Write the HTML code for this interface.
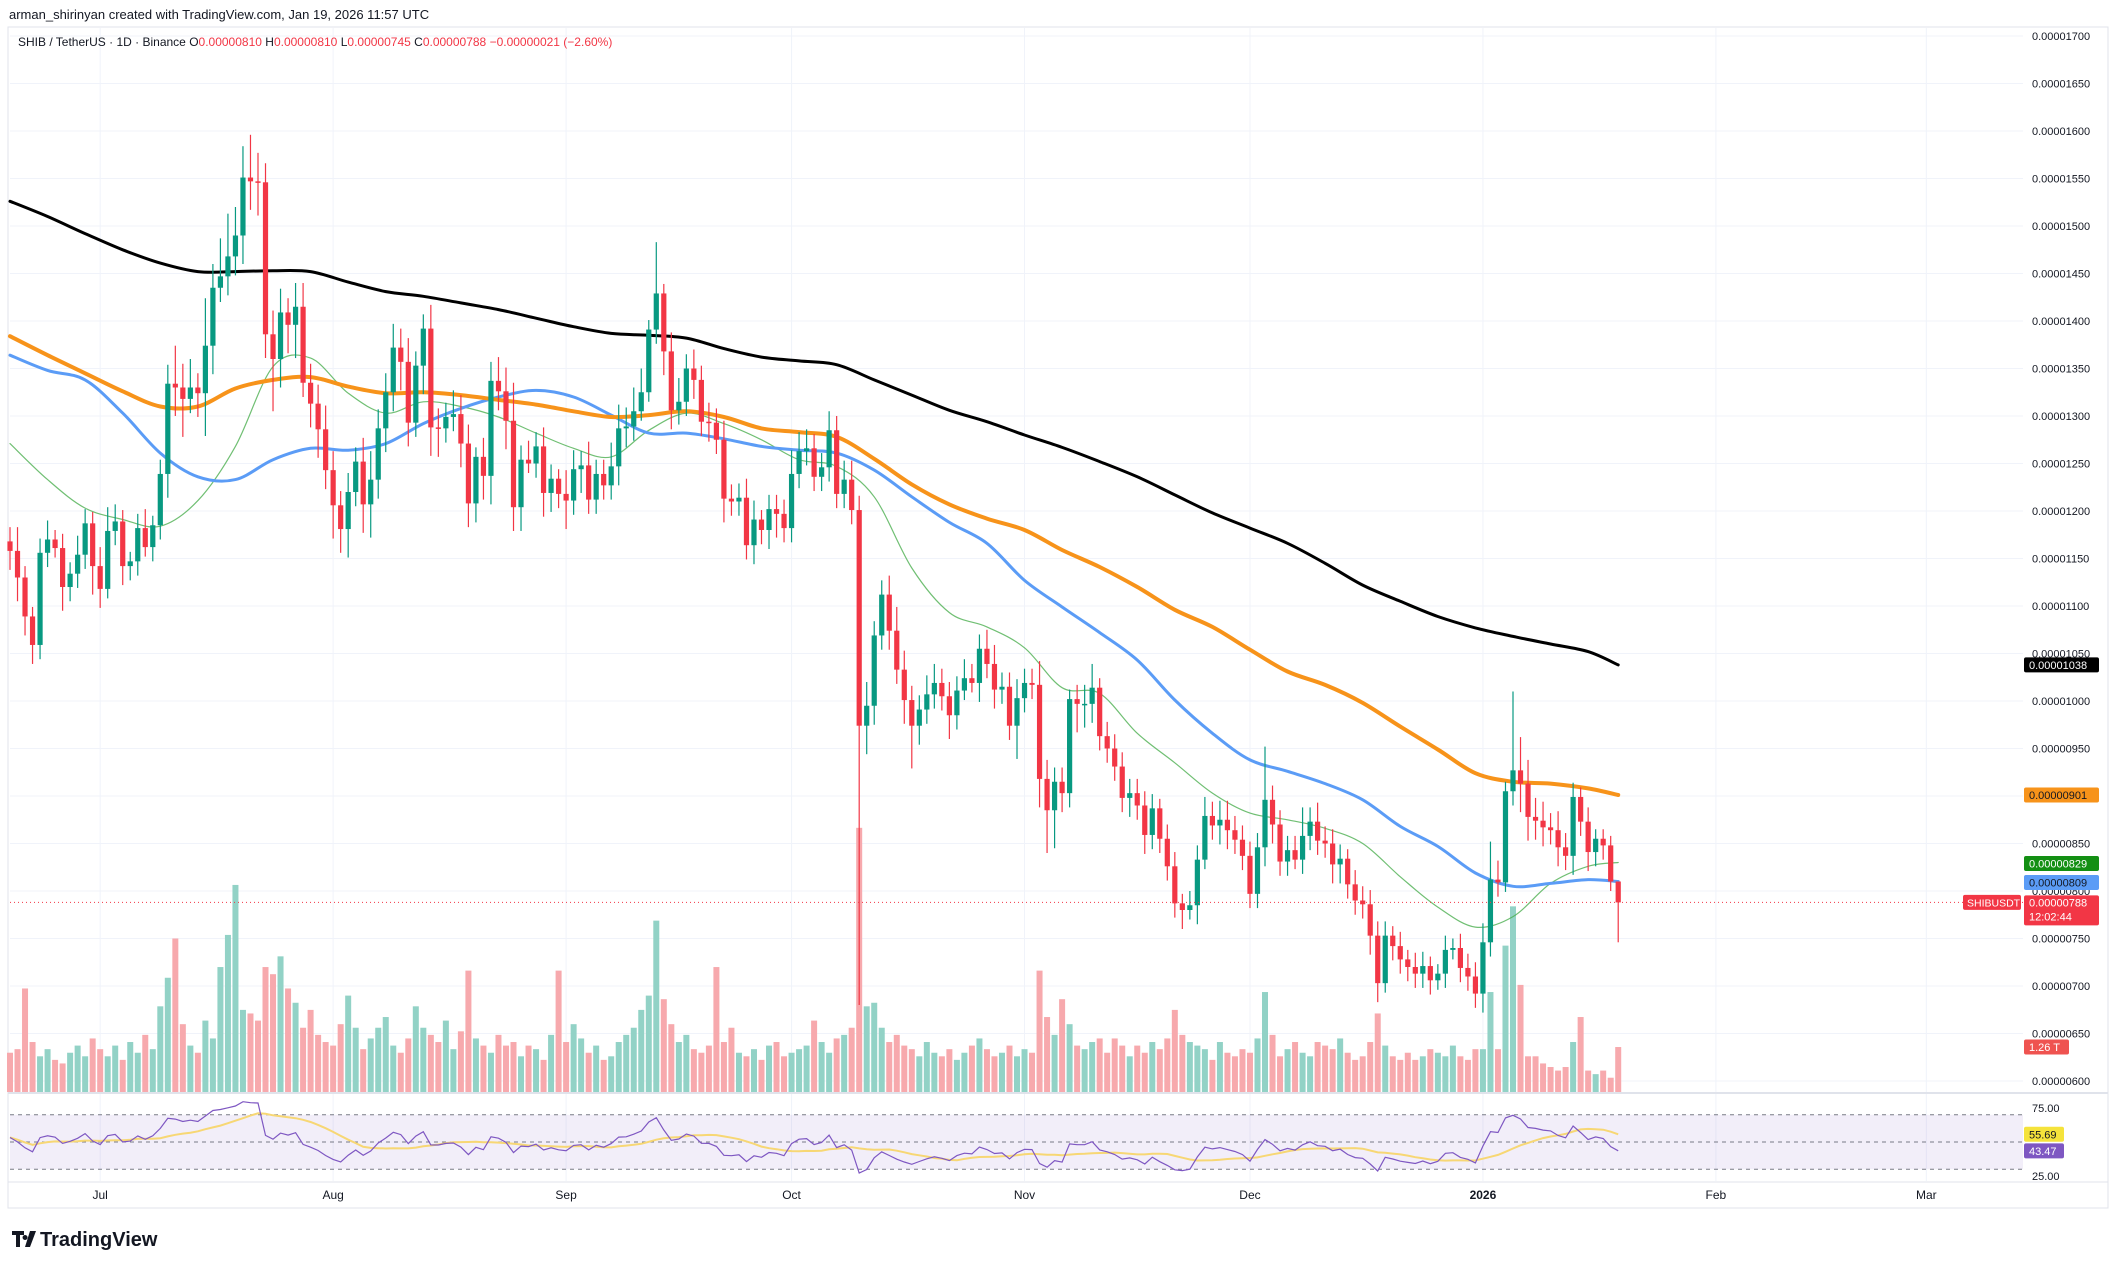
<!DOCTYPE html>
<html><head><meta charset="utf-8"><title>SHIB / TetherUS 1D chart</title>
<style>
html,body{margin:0;padding:0;background:#fff;width:2119px;height:1269px;overflow:hidden;font-family:"Liberation Sans",sans-serif;}
svg text{font-family:"Liberation Sans",sans-serif;}
</style></head>
<body>
<svg id="chart" width="2119" height="1269" viewBox="0 0 2119 1269" xmlns="http://www.w3.org/2000/svg">
  <rect x="0" y="0" width="2119" height="1269" fill="#ffffff"/>
  <text x="9" y="19" font-size="13" fill="#131722">arman_shirinyan created with TradingView.com, Jan 19, 2026 11:57 UTC</text>
  <rect x="8" y="27" width="2100" height="1181" fill="none" stroke="#e0e3eb" stroke-width="1"/>
  <g id="grid"></g>
  <g id="volume"></g>
  <g id="mas"></g>
  <g id="candles"></g>
  <g id="rsi"></g>
  <g id="axes"></g>
  <g id="badges"></g>
  <text x="18" y="46" font-size="12" fill="#131722">SHIB / TetherUS · 1D · Binance  <tspan fill="#131722">O</tspan><tspan fill="#f23645">0.00000810</tspan>  <tspan fill="#131722">H</tspan><tspan fill="#f23645">0.00000810</tspan>  <tspan fill="#131722">L</tspan><tspan fill="#f23645">0.00000745</tspan>  <tspan fill="#131722">C</tspan><tspan fill="#f23645">0.00000788</tspan>  <tspan fill="#f23645">−0.00000021 (−2.60%)</tspan></text>
  <g>
    <path d="M12 1231 h12 v4 h-4 v12 h-4 v-12 h-4 z M25 1235 a2.5 2.5 0 1 0 0.1 0 z M30 1231 h6 l-6 16 h-5 z" fill="#131722"/>
    <text x="40" y="1246" font-size="20" font-weight="bold" fill="#131722">TradingView</text>
  </g>
</svg>
<script>
// ===== data =====
const closes = [
1158,1130,1089,1059,1156,1170,1161,1120,1134,1154,
1187,1142,1118,1179,1189,1142,1147,1182,1162,1185,
1239,1334,1330,1318,1330,1324,1374,1435,1447,1468,
1490,1551,1547,1546,1386,1360,1409,1396,1415,1335,
1313,1286,1243,1206,1181,1220,1252,1207,1233,1287,
1325,1372,1357,1293,1353,1392,1288,1287,1299,1302,
1271,1208,1257,1237,1337,1326,1295,1204,1254,1250,
1268,1219,1234,1218,1211,1244,1248,1212,1239,1227,
1247,1287,1289,1305,1325,1391,1429,1368,1306,1315,
1350,1338,1294,1293,1275,1213,1210,1214,1164,1191,
1180,1202,1197,1182,1239,1263,1266,1236,1246,1285,
1218,1233,1201,974,995,1069,1112,1074,1033,1001,
974,991,1007,1019,1005,985,1011,1024,1019,1055,
1039,1012,1015,974,1003,1019,1017,918,885,915,
903,1002,997,997,1014,963,950,931,898,903,
890,859,887,855,826,787,780,785,833,879,
869,875,864,854,837,797,846,896,870,831,
843,833,858,873,853,850,828,834,807,790,
786,753,703,753,742,728,720,713,721,706,
713,738,740,719,710,692,746,812,809,905,
927,913,878,874,867,864,846,837,899,873,
841,855,848,810,788];
const firstOpen = 1168;
const wickUp = [
15,25,12,10,15,20,10,15,12,20,
15,12,20,25,18,12,10,15,20,10,
15,20,40,25,30,15,50,25,40,45,
30,33,45,30,20,25,25,15,25,25,
20,20,25,20,15,20,15,25,30,20,
20,25,20,25,15,15,25,20,15,25,
20,20,10,20,20,25,25,40,15,20,
15,20,15,10,25,20,15,25,15,15,
25,25,20,25,25,10,54,10,20,25,
15,20,15,20,15,20,15,15,20,20,
10,15,15,15,25,20,20,15,15,20,
15,20,20,15,25,15,15,20,25,20,
15,15,20,20,15,15,15,20,15,15,
20,20,15,15,20,15,15,25,20,15,
15,10,15,20,25,10,15,15,15,15,
15,15,15,10,15,15,10,15,15,20,
15,20,20,15,15,15,15,56,15,15,
15,15,30,15,20,15,15,15,10,15,
15,15,15,15,10,15,10,15,15,10,
10,15,10,15,15,15,20,40,20,10,
83,35,25,20,20,15,20,15,15,10,
15,10,10,10,0];
const wickDn = [
20,25,20,20,15,15,10,25,15,15,
15,30,20,10,15,20,15,15,10,15,
15,25,30,40,15,25,45,30,15,20,
20,30,30,35,25,55,30,30,35,15,
25,30,20,35,25,30,15,30,35,20,
25,20,30,25,15,30,30,30,15,15,
25,25,20,25,30,20,30,25,25,10,
15,25,20,15,30,15,25,15,15,15,
15,20,20,15,10,10,15,25,20,15,
15,20,15,20,15,25,15,15,15,20,
15,20,25,15,15,15,15,15,15,15,
15,15,15,294,30,20,15,20,15,25,
45,20,15,15,15,25,15,10,10,20,
15,20,15,15,35,15,15,30,45,40,
20,15,30,25,20,15,15,15,15,20,
15,20,15,15,15,15,20,10,20,10,
15,20,20,15,15,15,15,20,20,15,
15,10,15,15,15,15,20,20,15,15,
15,20,20,10,15,15,15,15,15,15,
10,15,10,15,15,15,20,15,15,10,
15,30,25,20,20,15,20,15,20,15,
20,15,15,10,42];
const volumes = [1.1,
1.2,2.9,1.4,1.0,1.2,0.9,0.8,1.1,1.3,1.0,1.5,1.2,
1.0,1.3,0.9,1.4,1.1,1.6,1.2,2.4,3.2,4.3,1.9,1.3,1.1,2.0,1.5,3.5,4.4,5.8,2.3,2.2,2.0,3.5,3.3,3.8,2.9,2.5,1.8,2.3,1.6,1.4,1.3,
1.9,2.7,1.8,1.2,1.5,1.8,2.1,1.3,1.1,1.5,2.4,1.8,1.6,1.4,2.0,1.2,1.7,3.4,1.5,1.3,1.1,1.6,1.3,1.4,1.0,1.3,1.2,0.9,1.6,3.4,1.4,
1.9,1.5,1.1,1.3,0.9,1.0,1.4,1.6,1.8,2.3,2.7,4.8,2.6,1.9,1.4,1.6,1.2,1.1,1.3,3.5,1.4,1.8,1.1,1.0,1.2,0.9,1.3,1.4,1.0,1.1,
1.2,1.3,2.0,1.4,1.1,1.5,1.6,1.8,7.4,2.4,2.5,1.8,1.4,1.6,1.3,1.2,1.0,1.4,1.1,1.0,1.2,0.9,1.1,1.3,1.5,1.2,1.0,1.1,1.3,1.0,1.2,
1.1,3.4,2.1,1.6,2.6,1.9,1.3,1.2,1.4,1.5,1.1,1.5,1.3,1.0,1.3,1.1,1.4,1.2,1.5,2.3,1.6,1.4,1.3,1.2,0.9,1.4,1.1,1.0,1.2,1.1,
1.5,2.8,1.6,1.0,1.2,1.4,1.1,1.0,1.4,1.3,1.2,1.5,1.1,0.9,1.0,1.4,2.2,1.3,1.0,0.9,1.1,0.9,1.0,1.2,1.1,1.0,1.3,1.0,0.9,1.2,1.2,
2.8,1.2,4.1,5.2,3.0,1.0,1.0,0.8,0.7,0.6,0.7,1.4,2.1,0.6,0.5,0.6,0.4,1.26];
const maDays = [0,5,10,15,20,25,30,35,40,45,50,55,60,65,70,75,80,85,90,95,100,105,110,115,120,125,130,135,140,145,150,155,160,165,170,175,180,185,190,195,200,205,210,214];
const ma200 = [1526,1510,1492,1475,1461,1452,1452,1453,1452,1441,1431,1426,1419,1412,1403,1394,1387,1385,1382,1371,1362,1358,1354,1338,1322,1306,1294,1280,1267,1252,1236,1217,1198,1182,1166,1145,1122,1105,1089,1077,1068,1060,1052,1038];
const ma100 = [1384,1364,1345,1326,1310,1310,1329,1338,1341,1331,1324,1325,1322,1317,1312,1305,1299,1301,1305,1299,1287,1283,1278,1255,1228,1207,1192,1180,1159,1141,1120,1096,1078,1054,1031,1017,998,973,949,924,915,913,908,901];
const ma50  = [1364,1348,1338,1303,1261,1236,1233,1254,1266,1264,1271,1292,1308,1320,1327,1320,1301,1282,1282,1276,1268,1264,1261,1243,1215,1188,1166,1127,1099,1072,1043,1001,966,938,926,913,896,868,847,819,805,808,812,810];
const ma20  = [1271,1233,1203,1191,1184,1211,1268,1352,1361,1324,1303,1315,1310,1299,1282,1266,1257,1285,1303,1292,1275,1254,1247,1215,1140,1093,1078,1056,1014,1008,966,935,903,882,875,866,850,815,783,762,773,808,826,830];
const monthLabels = ["Jul","Aug","Sep","Oct","Nov","Dec","2026","Feb","Mar"];
const monthDays = [12,43,74,104,135,165,196,227,255];
const priceTicks = [600,650,700,750,800,850,900,950,1000,1050,1100,1150,1200,1250,1300,1350,1400,1450,1500,1550,1600,1650,1700];
const rsiTicks = [75,25];

// ===== scales =====
const NS = "http://www.w3.org/2000/svg";
const PL = 10, PR = 2023;
function xOf(d){ return 10 + 7.515*d; }
function yP(p){ return 606 + (1100 - p)*0.95; }
function yV(v){ return 1092 - v*35.7; }
function yR(r){ return 1142 - (r - 50)*1.36; }
function mk(tag, attrs, parent){
  const e = document.createElementNS(NS, tag);
  for (const k in attrs) e.setAttribute(k, attrs[k]);
  parent.appendChild(e);
  return e;
}
const gGrid = document.getElementById('grid');
const gVol = document.getElementById('volume');
const gMa = document.getElementById('mas');
const gC = document.getElementById('candles');
const gR = document.getElementById('rsi');
const gAx = document.getElementById('axes');
const gB = document.getElementById('badges');

priceTicks.forEach(p => {
  const l = mk('line', {x1:PL, x2:PR, y1:yP(p), y2:yP(p), stroke:'#f0f3fa', 'stroke-width':1}, gGrid);
  
  
  const t = mk('text', {x:2032, y:yP(p)+4, 'font-size':11, fill:'#131722'}, gAx);
  t.textContent = (p/1e8).toFixed(8);
  
  
});
monthDays.forEach((d, i) => {
  const l = mk('line', {x1:xOf(d), x2:xOf(d), y1:28, y2:1181, stroke:'#f0f3fa', 'stroke-width':1}, gGrid);
  
  
  const t = mk('text', {x:xOf(d), y:1199, 'font-size':12, fill:'#131722', 'text-anchor':'middle', 'font-weight': monthLabels[i]==='2026' ? 'bold' : 'normal'}, gAx);
  t.textContent = monthLabels[i];
  
  
});
const sep1 = mk('line', {x1:8, x2:2108, y1:1093, y2:1093, stroke:'#e0e3eb', 'stroke-width':2}, gAx);


const sep2 = mk('line', {x1:8, x2:2108, y1:1182, y2:1182, stroke:'#e0e3eb', 'stroke-width':1}, gAx);



const opens = closes.map((c, i) => i === 0 ? firstOpen : closes[i-1]);

volumes.forEach((v, i) => {
  const up = closes[i] >= opens[i];
  const r = mk('rect', {x:xOf(i)-3, y:yV(v), width:6, height:1092-yV(v), fill: up ? '#92d2c6' : '#f7a9ad'}, gVol);
  
  
});

// smooth moving averages (Catmull-Rom through sampled values)
function maPath(arr){
  const pts = arr.map((v, i) => [xOf(maDays[i]), yP(v)]);
  let d = 'M' + pts[0][0].toFixed(1) + ' ' + pts[0][1].toFixed(1);
  for (let i = 0; i < pts.length-1; i++){
    const p0 = pts[Math.max(0, i-1)], p1 = pts[i], p2 = pts[i+1], p3 = pts[Math.min(pts.length-1, i+2)];
    const c1 = [p1[0] + (p2[0]-p0[0])/6, p1[1] + (p2[1]-p0[1])/6];
    const c2 = [p2[0] - (p3[0]-p1[0])/6, p2[1] - (p3[1]-p1[1])/6];
    d += ' C' + c1[0].toFixed(1) + ' ' + c1[1].toFixed(1) + ' ' + c2[0].toFixed(1) + ' ' + c2[1].toFixed(1) + ' ' + p2[0].toFixed(1) + ' ' + p2[1].toFixed(1);
  }
  return d;
}
[[ma20,'#4caf50',1.2,'ma-20-line'],[ma50,'#5b9cf6',3,'ma-50-line'],[ma100,'#f7931a',4,'ma-100-line'],[ma200,'#000000',3,'ma-200-line']].forEach(m => {
  const p = mk('path', {d:maPath(m[0]), fill:'none', stroke:m[1], 'stroke-width':m[2], 'stroke-linejoin':'round', 'stroke-linecap':'round', opacity: m[3]==='ma-20-line' ? 0.8 : 1}, gMa);
  
  
});

closes.forEach((c, i) => {
  const o = opens[i];
  const up = c >= o;
  const col = up ? '#089981' : '#f23645';
  const hi = Math.max(o, c) + wickUp[i];
  const lo = Math.min(o, c) - wickDn[i];
  const x = xOf(i);
  const w = mk('line', {x1:x, x2:x, y1:yP(hi), y2:yP(lo), stroke:col, 'stroke-width':1.2}, gC);
  
  
  const top = yP(Math.max(o, c)), bot = yP(Math.min(o, c));
  const b = mk('rect', {x:x-2.6, y:top, width:5.2, height:Math.max(1.5, bot-top), fill:col}, gC);
  
  
});

const cp = closes[closes.length-1];
const pl = mk('line', {x1:PL, x2:PR, y1:yP(cp), y2:yP(cp), stroke:'#f23645', 'stroke-width':1, 'stroke-dasharray':'1 3'}, gC);



// RSI
const rsiVals = [];
(function(){
  let g = 0, l = 0;
  for (let i = 1; i <= 14; i++){ const ch = closes[i]-closes[i-1]; if (ch > 0) g += ch; else l -= ch; }
  g /= 14; l /= 14;
  rsiVals.push(100 - 100/(1 + g/Math.max(l, 1e-9)));
  for (let i = 1; i < closes.length; i++){
    const ch = closes[i]-closes[i-1];
    g = (g*13 + Math.max(ch, 0))/14;
    l = (l*13 + Math.max(-ch, 0))/14;
    rsiVals.push(100 - 100/(1 + g/Math.max(l, 1e-9)));
  }
})();
const rsiMa = rsiVals.map((v, i) => { const s = rsiVals.slice(Math.max(0, i-13), i+1); return s.reduce((a, b) => a+b, 0)/s.length; });
const band = mk('rect', {x:PL, y:yR(70), width:PR-PL, height:yR(30)-yR(70), fill:'#7e57c2', 'fill-opacity':0.1}, gR);


[70,50,30].forEach(v => {
  const l = mk('line', {x1:PL, x2:PR, y1:yR(v), y2:yR(v), stroke:'#787b86', 'stroke-width':1, 'stroke-dasharray':'4 4'}, gR);
  
  
});
const rm = mk('path', {d: rsiMa.map((v, i) => (i ? 'L' : 'M') + xOf(i).toFixed(1) + ' ' + yR(v).toFixed(1)).join(' '), fill:'none', stroke:'#f7d774', 'stroke-width':2}, gR);


const rl = mk('path', {d: rsiVals.map((v, i) => (i ? 'L' : 'M') + xOf(i).toFixed(1) + ' ' + yR(v).toFixed(1)).join(' '), fill:'none', stroke:'#7e57c2', 'stroke-width':1.2}, gR);


rsiTicks.forEach(v => {
  const t = mk('text', {x:2032, y:yR(v)+4, 'font-size':11, fill:'#131722'}, gAx);
  t.textContent = v.toFixed(2);
  
  
});

function badge(y, w, bg, fg, txt, name, h){
  h = h || 15;
  const g = mk('g', {}, gB);
  
  
  mk('rect', {x:2024, y:y-h/2, width:w, height:h, rx:2, fill:bg}, g);
  const t = mk('text', {x:2029, y:y+4, 'font-size':11, fill:fg}, g);
  t.textContent = txt;
  return g;
}
badge(yP(1038), 75, '#000000', '#ffffff', '0.00001038', 'ma-200-badge');
badge(yP(901), 75, '#f7931a', '#131722', '0.00000901', 'ma-100-badge');
badge(yP(829), 75, '#138f13', '#ffffff', '0.00000829', 'ma-20-badge');
badge(yP(809), 75, '#5b9cf6', '#131722', '0.00000809', 'ma-50-badge');
(function(){
  const y = yP(cp);
  const g = mk('g', {}, gB);
  
  
  mk('rect', {x:2024, y:y-7, width:75, height:30, rx:2, fill:'#f23645'}, g);
  const t1 = mk('text', {x:2029, y:y+4, 'font-size':11, fill:'#ffffff'}, g);
  t1.textContent = '0.00000788';
  const t2 = mk('text', {x:2029, y:y+18, 'font-size':11, fill:'#ffffff'}, g);
  t2.textContent = '12:02:44';
  const s = mk('g', {}, gB);
  
  
  mk('rect', {x:1963, y:y-7.5, width:58, height:15, rx:2, fill:'#f23645'}, s);
  const t3 = mk('text', {x:1967, y:y+4, 'font-size':10.5, fill:'#ffffff'}, s);
  t3.textContent = 'SHIBUSDT';
})();
badge(yV(volumes[volumes.length-1]), 45, '#ef5350', '#ffffff', '1.26 T', 'volume-badge');
badge(yR(55.69), 40, '#f5e33b', '#131722', '55.69', 'rsi-ma-badge');
badge(yR(43.47), 40, '#7e57c2', '#ffffff', '43.47', 'rsi-badge');
</script>
</body></html>
